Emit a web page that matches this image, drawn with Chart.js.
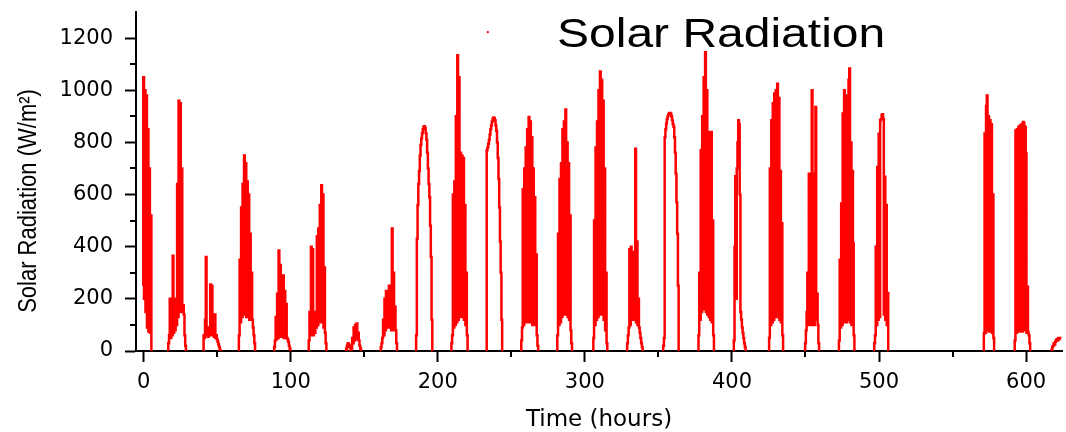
<!DOCTYPE html>
<html>
<head>
<meta charset="utf-8">
<title>Solar Radiation</title>
<script src="https://cdn.jsdelivr.net/npm/chart.js@4.4.0/dist/chart.umd.min.js"></script>
<style>
    html, body { margin: 0; padding: 0; background: #ffffff; }
    #wrap { width: 1066px; height: 432px; }
</style>
</head>
<body>
<div id="wrap"><canvas id="myChart" width="1066" height="432"></canvas></div>
<script>
// readings are half an hour apart, one array per sunny period
const STEP = 0.5;
const dayStarts = [-0.5, 16.5, 40.5, 64.5, 88.5, 112, 137.5, 161, 185, 209, 233, 256.5, 281,
                   305.5, 328.5, 353, 377, 401, 425, 449.5, 472.5, 496.5, 571, 592, 617];

const day01 = [250, 1050, 200, 1000, 150, 980, 90, 850, 75, 700, 70, 520, 0];
const day02 = [0, 30, 60, 200, 50, 190, 60, 365, 70, 200, 80, 190, 100, 640, 130, 960, 150, 950, 160, 700, 150, 175, 140, 60, 20, 0];
const day03 = [0, 60, 50, 120, 360, 60, 90, 55, 80, 60, 255, 70, 250, 60, 85, 55, 140, 50, 60, 45, 35, 25, 15, 5, 0];
const day04 = [0, 60, 350, 110, 550, 130, 640, 140, 750, 140, 720, 130, 650, 130, 600, 120, 450, 120, 300, 120, 90, 60, 30, 0];
const day05 = [0, 15, 40, 130, 45, 220, 50, 385, 55, 330, 60, 250, 55, 290, 50, 230, 50, 180, 50, 45, 35, 20, 10, 0];
const day06 = [0, 40, 150, 60, 400, 80, 390, 60, 120, 70, 150, 90, 440, 100, 470, 110, 560, 120, 636, 110, 600, 90, 320, 70, 30, 0];
const day07 = [0, 10, 20, 30, 25, 15, 20, 5, 10, 50, 30, 90, 40, 100, 45, 105, 60, 70, 40, 20, 10, 0];
const day08 = [0, 15, 30, 50, 120, 60, 200, 80, 230, 90, 220, 100, 250, 90, 245, 80, 470, 90, 300, 80, 170, 80, 30, 0];
const day09 = [0, 60, 430, 560, 640, 690, 750, 790, 815, 835, 850, 860, 862, 855, 835, 810, 760, 700, 640, 590, 480, 360, 120, 0];
const day10 = [0, 30, 60, 600, 90, 650, 100, 900, 110, 1134, 120, 1050, 130, 760, 140, 750, 130, 740, 120, 560, 100, 300, 60, 0];
const day11 = [0, 770, 780, 795, 810, 830, 850, 865, 880, 890, 895, 893, 885, 865, 845, 800, 740, 660, 550, 420, 300, 120, 0];
const day12 = [0, 40, 90, 620, 100, 700, 110, 780, 120, 850, 110, 897, 120, 880, 110, 820, 100, 700, 110, 590, 100, 370, 60, 20, 0];
const day13 = [0, 60, 450, 100, 660, 110, 720, 130, 850, 140, 880, 150, 926, 140, 800, 130, 720, 120, 520, 80, 30, 0];
const day14 = [0, 50, 500, 100, 780, 120, 880, 130, 1000, 140, 1072, 150, 1040, 140, 960, 120, 700, 80, 300, 30, 0];
const day15 = [0, 30, 60, 90, 390, 100, 400, 120, 380, 130, 300, 120, 776, 110, 420, 100, 200, 90, 70, 50, 30, 15, 0];
const day16 = [0, 20, 50, 820, 850, 872, 890, 900, 908, 913, 913, 910, 900, 885, 870, 860, 820, 760, 680, 570, 450, 250, 0];
const day17 = [0, 60, 300, 120, 770, 150, 900, 180, 1050, 160, 1146, 150, 1000, 140, 840, 130, 760, 120, 840, 110, 500, 60, 0];
const day18 = [0, 40, 400, 670, 200, 700, 800, 885, 870, 600, 150, 120, 90, 70, 50, 30, 15, 0];
const day19 = [0, 50, 700, 100, 885, 110, 950, 120, 987, 130, 1000, 140, 1025, 130, 970, 120, 690, 110, 490, 60, 0];
const day20 = [0, 30, 80, 150, 300, 100, 680, 120, 650, 100, 1000, 110, 600, 100, 680, 936, 120, 220, 100, 30, 0];
const day21 = [0, 40, 350, 90, 566, 100, 911, 110, 1000, 120, 980, 110, 964, 120, 1040, 1083, 110, 800, 100, 690, 413, 60, 0];
const day22 = [0, 30, 60, 400, 100, 706, 120, 833, 130, 885, 890, 905, 908, 890, 140, 668, 120, 560, 100, 222, 0];
const day23 = [0, 68, 834, 70, 940, 980, 80, 900, 75, 885, 80, 870, 70, 600, 50, 0];
const day24 = [0, 40, 846, 70, 850, 80, 860, 75, 865, 80, 870, 75, 878, 875, 80, 860, 757, 70, 246, 70, 60, 30, 0];
const day25 = [0, 5, 15, 20, 30, 25, 35, 40, 45, 40, 50, 45, 50, 48];

// single stray reading above the rest
const strayX = [234];
const strayY = [1223];

const xMajor = [0, 100, 200, 300, 400, 500, 600];
const xMinor = [50, 150, 250, 350, 450, 550];
const yMinor = [100, 300, 500, 700, 900, 1100];

const chartTitle = 'Solar Radiation';
const yTitle = 'Solar Radiation (W/m\u00B2)';
const xTitle = 'Time (hours)';


const days = [day01, day02, day03, day04, day05, day06, day07, day08, day09, day10, day11, day12, day13,
              day14, day15, day16, day17, day18, day19, day20, day21, day22, day23, day24, day25];

const linePoints = [];
days.forEach((vals, d) => {
    vals.forEach((v, i) => linePoints.push({ x: dayStarts[d] + i * STEP, y: v }));
    // break the line between periods
    linePoints.push({ x: dayStarts[d] + vals.length * STEP, y: null });
});

const strayPoints = strayX.map((x, i) => ({ x: x, y: strayY[i] }));


const extrasPlugin = {
    id: 'extras',
    afterDraw(chart) {
        const ctx = chart.ctx;
        const xs = chart.scales.x;
        const ys = chart.scales.y;
        const area = chart.chartArea;

        // minor ticks
        ctx.save();
        ctx.strokeStyle = '#000';
        ctx.lineWidth = 2;
        xMinor.forEach(v => {
            const px = Math.round(xs.getPixelForValue(v));
            ctx.beginPath();
            ctx.moveTo(px, area.bottom);
            ctx.lineTo(px, area.bottom + 6);
            ctx.stroke();
        });
        yMinor.forEach(v => {
            const py = Math.round(ys.getPixelForValue(v));
            ctx.beginPath();
            ctx.moveTo(area.left, py);
            ctx.lineTo(area.left - 6, py);
            ctx.stroke();
        });
        ctx.restore();

        // chart title, sits inside the plot
        ctx.save();
        ctx.fillStyle = '#000';
        ctx.font = '40px "Liberation Sans", Arial, sans-serif';
        ctx.textBaseline = 'alphabetic';
        ctx.textAlign = 'left';
        ctx.translate(area.left + 421, area.top + 35);
        ctx.scale(1.2, 1);
        ctx.fillText(chartTitle, 0, 0);
        ctx.restore();

        // y axis title
        ctx.save();
        ctx.fillStyle = '#000';
        ctx.font = '22px "Liberation Sans", Arial, sans-serif';
        ctx.textBaseline = 'alphabetic';
        ctx.textAlign = 'center';
        ctx.translate(area.left - 100, area.top + 189);
        ctx.rotate(-Math.PI / 2);
        ctx.scale(1, 1.15);
        ctx.fillText(yTitle, 0, 0);
        ctx.restore();
    }
};


const ctx = document.getElementById('myChart').getContext('2d');
const myChart = new Chart(ctx, {
    type: 'line',
    data: {
        datasets: [{
            label: 'Solar Radiation',
            data: linePoints,
            borderColor: '#ff0000',
            backgroundColor: '#ff0000',
            borderWidth: 2.5,
            borderJoinStyle: 'miter',
            stepped: 'middle',
            pointRadius: 0,
            spanGaps: false,
            fill: false
        }, {
            label: 'stray',
            data: strayPoints,
            showLine: false,
            pointRadius: 1.2,
            pointBorderWidth: 0,
            pointBackgroundColor: '#ff0000',
            borderColor: '#ff0000'
        }]
    },
    options: {
        responsive: false,
        animation: false,
        devicePixelRatio: 1,
        layout: { padding: { top: 12, right: 0, bottom: 0, left: 0 } },
        plugins: {
            legend: { display: false },
            tooltip: { enabled: false }
        },
        scales: {
            x: {
                type: 'linear',
                min: -5.2,
                max: 624.4,
                z: 1,
                grid: { drawOnChartArea: false, tickLength: 11, tickWidth: 2, tickColor: '#000' },
                border: { display: true, color: '#000', width: 2 },
                afterBuildTicks: (scale) => { scale.ticks = xMajor.map(v => ({ value: v })); },
                ticks: {
                    color: '#000',
                    font: { family: 'DejaVu Sans', size: 21 },
                    padding: 8,
                    maxRotation: 0,
                    autoSkip: false
                },
                title: {
                    display: true,
                    text: xTitle,
                    color: '#000',
                    font: { family: 'DejaVu Sans', size: 23 },
                    padding: { top: 0, bottom: -2 }
                },
                afterFit: (scale) => {
                    scale.height = 81;
                    scale.paddingLeft = 0;
                    scale.paddingRight = 0;
                }
            },
            y: {
                type: 'linear',
                min: 0,
                max: 1300,
                z: 1,
                grid: { drawOnChartArea: false, tickLength: 11, tickWidth: 2, tickColor: '#000' },
                border: { display: true, color: '#000', width: 2 },
                ticks: {
                    stepSize: 200,
                    includeBounds: false,
                    color: '#000',
                    font: { family: 'DejaVu Sans', size: 21 },
                    padding: 12,
                    callback: (v) => String(v)
                },
                afterFit: (scale) => {
                    scale.width = 136;
                    scale.paddingTop = 0;
                    scale.paddingBottom = 0;
                }
            }
        }
    },
    plugins: [extrasPlugin]
});
</script>
</body>
</html>
